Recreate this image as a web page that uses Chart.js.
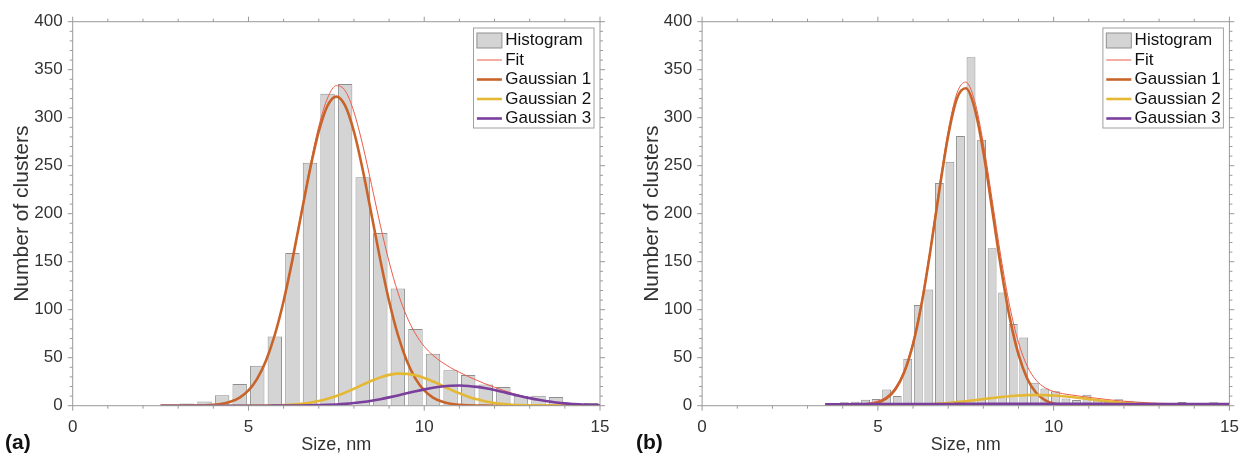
<!DOCTYPE html>
<html>
<head>
<meta charset="utf-8">
<script src="https://cdn.jsdelivr.net/npm/chart.js@4.4.1/dist/chart.umd.min.js"></script>
<style>
  body { margin: 0; background: #fff; overflow: hidden; }
  #wrap { position: relative; width: 1241px; height: 457px; overflow: hidden; font-family: "Liberation Sans", Arial, sans-serif; }
  canvas { position: absolute; top: 0; }
  .tag { position: absolute; top: 430px; font-weight: bold; font-size: 21px; color: #111; }
</style>
</head>
<body>
<div id="wrap">
  <canvas id="chartA" width="640" height="457" style="left:0"></canvas>
  <canvas id="chartB" width="640" height="457" style="left:630px"></canvas>
  <div class="tag" style="left:5px">(a)</div>
  <div class="tag" style="left:636px">(b)</div>
</div>
<script>
// ======= Data: panel (a) =======
const binsA = [3.25, 3.75, 4.25, 4.75, 5.25, 5.75, 6.25, 6.75, 7.25, 7.75, 8.25, 8.75,
  9.25, 9.75, 10.25, 10.75, 11.25, 11.75, 12.25, 12.75, 13.25, 13.75, 14.25, 14.75];
const countsA = [2.4, 4.5, 11, 22.6, 41.7, 72, 159, 253, 325, 335, 238, 180,
  122, 80, 54, 37, 32, 22, 19.5, 10.4, 10.4, 9, 1.5, 2.8];

const curveXA = [2.5, 2.75, 3, 3.25, 3.5, 3.75, 4, 4.25, 4.5, 4.75, 5, 5.25, 5.5, 5.75, 6, 6.25,
  6.5, 6.75, 7, 7.25, 7.5, 7.75, 8, 8.25, 8.5, 8.75, 9, 9.25, 9.5, 9.75, 10, 10.25, 10.5, 10.75,
  11, 11.25, 11.5, 11.75, 12, 12.25, 12.5, 12.75, 13, 13.25, 13.5, 13.75, 14, 14.25, 14.5, 14.75, 15];
const fitA = [0, 0, 0.02, 0.05, 0.15, 0.37, 0.9, 2.0, 4.3, 8.5, 16.0, 28.3, 47.3, 74.3, 109.8, 153.2,
  201.3, 249.3, 291.0, 320.5, 333.4, 328.1, 306.0, 271.6, 230.3, 188.2, 149.9, 118.0, 93.2, 74.9,
  61.8, 52.4, 45.4, 39.6, 34.8, 30.4, 26.4, 22.6, 19.2, 16.0, 13.0, 10.5, 8.2, 6.3, 4.7, 3.4,
  2.4, 1.7, 1.1, 0.7, 0.5];
const gauss1A = [0, 0, 0.02, 0.05, 0.15, 0.37, 0.9, 2.0, 4.3, 8.5, 15.9, 28.2, 47.1, 73.9, 109.1, 151.9,
  199.1, 245.8, 285.6, 312.5, 322, 312.5, 285.6, 245.8, 199.1, 151.9, 109.1, 73.9, 47.1, 28.2,
  15.9, 8.5, 4.3, 2.0, 0.9, 0.37, 0.15, 0.05, 0.02, 0, 0, 0, 0, 0, 0, 0, 0, 0, 0, 0, 0];
const gauss2A = [0, 0, 0, 0, 0, 0, 0, 0, 0, 0, 0.04, 0.09, 0.18, 0.36, 0.65, 1.15,
  1.94, 3.13, 4.82, 7.13, 10.08, 13.64, 17.67, 21.9, 26.0, 29.5, 32.1, 33.4, 33.2, 31.7,
  28.9, 25.2, 21.1, 16.8, 12.9, 9.4, 6.6, 4.44, 2.85, 1.75, 1.03, 0.58, 0.31, 0.16, 0.08, 0.04,
  0.02, 0, 0, 0, 0];
const gauss3A = [0, 0, 0, 0, 0, 0, 0, 0, 0, 0, 0.01, 0.01, 0.02, 0.04, 0.07, 0.12,
  0.21, 0.35, 0.56, 0.87, 1.32, 1.94, 2.77, 3.86, 5.2, 6.81, 8.67, 10.7, 12.9, 15.0,
  17.0, 18.7, 20.0, 20.8, 21.0, 20.6, 19.6, 18.1, 16.3, 14.2, 12.0, 9.9, 7.9, 6.1, 4.6, 3.4,
  2.4, 1.7, 1.1, 0.7, 0.5];

// ======= Data: panel (b) =======
const binsB = [4.05, 4.35, 4.65, 4.95, 5.25, 5.55, 5.85, 6.15, 6.45, 6.75, 7.05, 7.35, 7.65,
  7.95, 8.25, 8.55, 8.85, 9.15, 9.45, 9.75, 10.05, 10.35, 10.65, 10.95, 11.25, 11.55, 11.85,
  12.15, 12.45, 12.75, 13.05, 13.35, 13.65, 13.95, 14.25, 14.55, 14.85];
const countsB = [3.5, 4.2, 6.3, 7, 17, 10, 49, 105, 121, 232, 254, 281, 363,
  277, 164, 118, 85, 71, 24, 18, 15, 7.5, 6, 11.5, 5.5, 5.2, 6.6,
  5.2, 4, 1.5, 1.5, 1.5, 3.8, 1, 1, 3.5, 1];

const curveXB = [3.5, 3.75, 4, 4.25, 4.5, 4.75, 5, 5.25, 5.5, 5.75, 6, 6.25, 6.5, 6.75, 7, 7.25,
  7.5, 7.75, 8, 8.25, 8.5, 8.75, 9, 9.25, 9.5, 9.75, 10, 10.25, 10.5, 10.75, 11, 11.25, 11.5,
  11.75, 12, 12.25, 12.5, 12.75, 13, 13.25, 13.5, 13.75, 14, 14.25, 14.5, 14.75, 15];
const fitB = [1.5, 1.5, 1.6, 1.7, 2.0, 2.85, 4.9, 9.6, 19.3, 37.1, 66.7, 110.2, 166.3, 228.6, 286.0, 325.6,
  337.1, 317.9, 273.2, 214.7, 155.0, 103.8, 65.9, 41.1, 26.6, 18.8, 14.8, 12.6, 11.2, 9.9, 8.7, 7.6, 6.5,
  5.5, 4.7, 4.0, 3.4, 2.9, 2.5, 2.3, 2.05, 1.9, 1.85, 1.75, 1.7, 1.65, 1.6];
const gauss1B = [0, 0.01, 0.03, 0.12, 0.39, 1.16, 3.15, 7.7, 17.2, 34.9, 64.2, 107.3, 162.9, 224.6, 281.3, 320.0,
  330.6, 310.3, 264.5, 204.8, 144.1, 92.0, 53.4, 28.1, 13.5, 5.86, 2.32, 0.83, 0.27, 0.08, 0.02, 0, 0,
  0, 0, 0, 0, 0, 0, 0, 0, 0, 0, 0, 0, 0, 0];
const gauss2B = [0, 0, 0.02, 0.03, 0.05, 0.09, 0.14, 0.22, 0.35, 0.53, 0.78, 1.13, 1.58, 2.16, 2.88, 3.73,
  4.69, 5.76, 6.87, 7.97, 9.01, 9.91, 10.61, 11.05, 11.2, 11.05, 10.61, 9.91, 9.01, 7.97, 6.87, 5.76, 4.69,
  3.73, 2.88, 2.16, 1.58, 1.13, 0.78, 0.53, 0.35, 0.22, 0.14, 0.08, 0.05, 0.03, 0.02];
const gauss3B = [1.5, 1.5, 1.55, 1.55, 1.6, 1.6, 1.65, 1.65, 1.7, 1.7, 1.75, 1.75, 1.8, 1.8, 1.8, 1.85,
  1.85, 1.85, 1.85, 1.9, 1.9, 1.9, 1.9, 1.9, 1.9, 1.9, 1.9, 1.9, 1.9, 1.85, 1.85, 1.85, 1.85,
  1.8, 1.8, 1.8, 1.8, 1.75, 1.75, 1.75, 1.7, 1.7, 1.7, 1.65, 1.65, 1.6, 1.6];

// ======= Style =======
const FONT = '"Liberation Sans", Arial, sans-serif';
const axisColor = '#999';
const textColor = '#333';
const colors = { bar: '#d4d4d4', barEdge: '#8f8f8f', fit: 'rgb(236,92,72)', g1: '#c8642a', g2: '#e4b832', g3: '#7a3e9d' };

// frame, minor ticks and legend box
const framePlugin = {
  id: 'frame',
  afterDraw(chart) {
    const { ctx, chartArea: a, scales: { x, y } } = chart;
    ctx.save();
    ctx.strokeStyle = axisColor;
    ctx.lineWidth = 1;
    ctx.strokeRect(a.left, a.top, a.right - a.left, a.bottom - a.top);
    ctx.beginPath();
    for (let v = 0; v <= 15; v += 1) {
      const px = x.getPixelForValue(v), len = v % 5 === 0 ? 5 : 3;
      ctx.moveTo(px, a.bottom); ctx.lineTo(px, a.bottom + len);
      ctx.moveTo(px, a.top); ctx.lineTo(px, a.top - len);
    }
    for (let v = 0; v <= 400; v += 10) {
      const py = y.getPixelForValue(v), len = v % 50 === 0 ? 5 : 3;
      ctx.moveTo(a.left, py); ctx.lineTo(a.left - len, py);
      ctx.moveTo(a.right, py); ctx.lineTo(a.right + len, py);
    }
    ctx.stroke();

    // legend
    const lx = a.right - 126.5, ly = a.top + 6.3, w = 120.5, h = 100;
    ctx.fillStyle = '#fff';
    ctx.fillRect(lx, ly, w, h);
    ctx.strokeStyle = '#a0a0a0';
    ctx.strokeRect(lx, ly, w, h);
    ctx.font = '17px ' + FONT;
    ctx.textBaseline = 'middle';
    chart.data.datasets.forEach((ds, i) => {
      const cy = ly + 12.5 + i * 19.5;
      if (ds.type === 'line') {
        ctx.strokeStyle = ds.borderColor;
        ctx.lineWidth = ds.borderWidth;
        ctx.beginPath(); ctx.moveTo(lx + 3.4, cy); ctx.lineTo(lx + 28.4, cy); ctx.stroke();
      } else {
        ctx.fillStyle = ds.backgroundColor;
        ctx.fillRect(lx + 3.4, cy - 7.5, 25, 15);
        ctx.strokeStyle = ds.borderColor;
        ctx.lineWidth = 1;
        ctx.strokeRect(lx + 3.4, cy - 7.5, 25, 15);
      }
      ctx.fillStyle = '#111';
      ctx.fillText(ds.label, lx + 31.7, cy);
    });
    ctx.restore();
  }
};

function makeChart(id, bins, counts, cx, fit, g1, g2, g3, plotLeft, padRight, barPct) {
  const pts = (xs, ys) => xs.map((x, i) => ({ x: x, y: ys[i] }));
  const line = (label, color, width, data, order) => ({
    type: 'line', label: label, data: pts(cx, data), borderColor: color, borderWidth: width,
    pointRadius: 0, cubicInterpolationMode: 'monotone', fill: false, order: order
  });
  return new Chart(document.getElementById(id), {
    type: 'bar',
    data: {
      datasets: [
        { label: 'Histogram', data: pts(bins, counts), backgroundColor: colors.bar, borderColor: colors.barEdge,
          borderWidth: 1, categoryPercentage: 1, barPercentage: barPct, order: 5 },
        line('Fit', colors.fit, 1, fit, 4),
        line('Gaussian 1', colors.g1, 2.6, g1, 3),
        line('Gaussian 2', colors.g2, 2.6, g2, 2),
        line('Gaussian 3', colors.g3, 2.6, g3, 1)
      ]
    },
    options: {
      responsive: false,
      animation: false,
      devicePixelRatio: 1,
      layout: { padding: { left: 0, top: 21.7, right: padRight, bottom: 0 } },
      plugins: { legend: { display: false }, tooltip: { enabled: false } },
      scales: {
        x: {
          type: 'linear', min: 0, max: 15, offset: false,
          grid: { display: false, drawTicks: false }, border: { display: false },
          ticks: { stepSize: 5, color: textColor, font: { size: 17, family: FONT }, padding: 11, maxRotation: 0 },
          title: { display: true, text: 'Size, nm', color: textColor, font: { size: 18, family: FONT }, padding: { top: 0, bottom: 1.5 } },
          afterFit: s => { s.height = 51.3; }
        },
        y: {
          min: 0, max: 400,
          grid: { display: false, drawTicks: false }, border: { display: false },
          ticks: { stepSize: 50, color: textColor, font: { size: 17, family: FONT }, padding: 10 },
          title: { display: true, text: 'Number of clusters', color: textColor, font: { size: 21, family: FONT }, padding: { top: 9.4, bottom: 0 } },
          afterFit: s => { s.width = plotLeft; }
        }
      }
    },
    plugins: [framePlugin]
  });
}

makeChart('chartA', binsA, countsA, curveXA, fitA, gauss1A, gauss2A, gauss3A, 72.7, 40, 0.82);
makeChart('chartB', binsB, countsB, curveXB, fitB, gauss1B, gauss2B, gauss3B, 72.1, 40.6, 0.84);
</script>
</body>
</html>
